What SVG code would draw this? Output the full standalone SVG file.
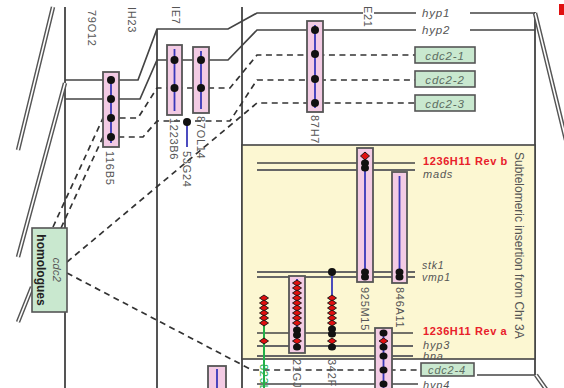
<svg xmlns="http://www.w3.org/2000/svg" width="564" height="388" viewBox="0 0 564 388">
<defs>
<style>
.vl{stroke:#555;stroke-width:2;fill:none}
.ln{stroke:#444;stroke-width:1.7;fill:none}
.gl{stroke:#666;stroke-width:2;fill:none}
.dbo{stroke:#555;stroke-width:4.5;fill:none}
.dbi{stroke:#fff;stroke-width:1.6;fill:none}
.dsh{stroke:#333;stroke-width:1.7;fill:none;stroke-dasharray:6 4.5}
.cl{fill:#f3cbe4;stroke:#555;stroke-width:1.8}
.bl{stroke:#3838b8;stroke-width:1.8}
.dot{fill:#111}
.rd{fill:#e01010;stroke:#111;stroke-width:0.9}
.t{font-family:"Liberation Sans",Arial,sans-serif;font-size:11px;fill:#555;letter-spacing:0.7px}
.g{font-family:"Liberation Sans",Arial,sans-serif;font-size:11.5px;font-style:italic;fill:#555;letter-spacing:0.8px}
.r{font-family:"Liberation Sans",Arial,sans-serif;font-size:11px;font-weight:bold;fill:#e8202a;letter-spacing:0.6px}
.gb{fill:#c9e8cf;stroke:#555;stroke-width:1.6}
</style>
</defs>
<rect width="564" height="388" fill="#fff"/>
<g id="backbone">
<line class="vl" x1="65" y1="7" x2="65" y2="388"/>
<line class="vl" x1="157" y1="29" x2="157" y2="388"/>
<line class="vl" x1="242" y1="7" x2="242" y2="388" stroke="#777"/>
<line class="vl" x1="535" y1="12" x2="535" y2="375"/>
<path class="dbo" d="M53,7 L18,150 M65,83 L18,257 M32,287 L18,322 M535,13 L566,140 M536,375 L548,392"/>
<path class="dbi" d="M53,7 L18,150 M65,83 L18,257 M32,287 L18,322 M535,13 L566,140 M536,375 L548,392"/>
<rect x="559" y="4" width="5" height="11" fill="#e01010"/>
</g>
<g id="insertion">
<rect x="242" y="145" width="293" height="214" fill="#fcf7d2" stroke="#444" stroke-width="1.6"/>
<text class="t" transform="translate(515,152) rotate(90)" style="font-size:12px;letter-spacing:0">Subtelomeric insertion from Chr 3A</text>
</g>
<g id="connectors">
<path class="ln" d="M65,80 H138 L157,29 H228 L257,13 H363 M374,13 H416 M470,13 H535"/>
<path class="ln" d="M65,99 H140 L157,60 H228 L257,30 H416 M470,30 H535"/>
<path class="ln" d="M257,163 H415"/>
<path class="gl" d="M257,170 H415"/>
<path class="gl" d="M257,272 H415 M257,277 H415"/>
<path class="ln" d="M257,333 H413"/>
<path class="gl" d="M257,346 H413 M257,356 H413"/>
<path class="ln" d="M257,384 H418"/>
<path class="ln" d="M477,375 H535"/>
<path class="dsh" d="M53,227 L103,118 H138 L157,88 H230 L257,55 H415"/>
<path class="dsh" d="M61,228 L103,137 H143 L157,121 H230 L257,80 H415"/>
<path class="dsh" d="M67,262 L257,103 H415"/>
<path class="dsh" d="M67,273 L252,370 H421"/>
</g>
<g id="c116B5">
<rect class="cl" x="103" y="72" width="16" height="75"/>
<line class="bl" x1="111" y1="76" x2="111" y2="143"/>
<circle class="dot" cx="111" cy="80" r="4"/><circle class="dot" cx="111" cy="99" r="4"/><circle class="dot" cx="111" cy="118" r="4"/><circle class="dot" cx="111" cy="137" r="4"/>
<text class="t" transform="translate(106,151) rotate(90)">116B5</text>
</g>
<g id="c1223B6">
<rect class="cl" x="167" y="45" width="15" height="70"/>
<line class="bl" x1="174.5" y1="49" x2="174.5" y2="111"/>
<circle class="dot" cx="174.5" cy="60" r="4"/><circle class="dot" cx="174.5" cy="88" r="4"/>
<text class="t" transform="translate(170,118) rotate(90)">1223B6</text>
</g>
<g id="c87OL14">
<rect class="cl" x="193" y="47" width="16" height="66"/>
<line class="bl" x1="201" y1="51" x2="201" y2="109"/>
<circle class="dot" cx="201" cy="60" r="4"/><circle class="dot" cx="201" cy="88" r="4"/>
<text class="t" transform="translate(197,116) rotate(90)">87OL14</text>
</g>
<g id="m53G24">
<line class="bl" x1="187" y1="122" x2="187" y2="147"/>
<circle class="dot" cx="187" cy="122" r="4"/>
<text class="t" transform="translate(183,151) rotate(90)">53G24</text>
</g>
<g id="c87H7">
<rect class="cl" x="307" y="21" width="16" height="91"/>
<line class="bl" x1="315" y1="25" x2="315" y2="108"/>
<circle class="dot" cx="315" cy="30" r="4"/><circle class="dot" cx="315" cy="54" r="4"/><circle class="dot" cx="315" cy="79" r="4"/><circle class="dot" cx="315" cy="103" r="4"/>
<text class="t" transform="translate(311,115) rotate(90)">87H7</text>
</g>
<g id="c925M15">
<rect class="cl" x="357" y="148" width="16" height="134"/>
<line class="bl" x1="365" y1="152" x2="365" y2="278"/>
<polygon class="rd" points="365,152 369.5,156 365,160 360.5,156"/>
<ellipse class="dot" cx="365" cy="163" rx="4" ry="3.5"/><ellipse class="dot" cx="365" cy="168" rx="4" ry="3.5"/>
<ellipse class="dot" cx="365" cy="272" rx="4" ry="3.5"/><ellipse class="dot" cx="365" cy="277" rx="4" ry="3.5"/>
<text class="t" transform="translate(361,287) rotate(90)">925M15</text>
</g>
<g id="c846A11">
<rect class="cl" x="392" y="172" width="15" height="111"/>
<line class="bl" x1="399.5" y1="176" x2="399.5" y2="279"/>
<ellipse class="dot" cx="399.5" cy="272" rx="4" ry="3.5"/><ellipse class="dot" cx="399.5" cy="277" rx="4" ry="3.5"/>
<text class="t" transform="translate(396,287) rotate(90)">846A11</text>
</g>
<g id="m342F">
<line class="bl" x1="332" y1="272" x2="332" y2="300"/>
<circle class="dot" cx="332" cy="272" r="4"/>
<polygon class="rd" points="332,295 336.5,298 332,301 327.5,298"/>
<polygon class="rd" points="332,300 336.5,303 332,306 327.5,303"/>
<polygon class="rd" points="332,305 336.5,308 332,311 327.5,308"/>
<polygon class="rd" points="332,310 336.5,313 332,316 327.5,313"/>
<polygon class="rd" points="332,315 336.5,318 332,321 327.5,318"/>
<polygon class="rd" points="332,320 336.5,323 332,326 327.5,323"/>
<ellipse class="dot" cx="332" cy="329" rx="4" ry="3.5"/><ellipse class="dot" cx="332" cy="334" rx="4" ry="3.5"/>
<polygon class="rd" points="332,338 336.5,341 332,344 327.5,341"/>
<ellipse class="dot" cx="332" cy="347" rx="4" ry="3.5"/>
<text class="t" transform="translate(328,359) rotate(90)">342F</text>
</g>
<g id="c21GJ">
<rect class="cl" x="289" y="276" width="16" height="77"/>
<line class="bl" x1="297" y1="279" x2="297" y2="350"/>
<polygon class="rd" points="297,280 301.5,283 297,286 292.5,283"/>
<polygon class="rd" points="297,285 301.5,288 297,291 292.5,288"/>
<polygon class="rd" points="297,290 301.5,293 297,296 292.5,293"/>
<polygon class="rd" points="297,295 301.5,298 297,301 292.5,298"/>
<polygon class="rd" points="297,300 301.5,303 297,306 292.5,303"/>
<polygon class="rd" points="297,305 301.5,308 297,311 292.5,308"/>
<polygon class="rd" points="297,310 301.5,313 297,316 292.5,313"/>
<polygon class="rd" points="297,315 301.5,318 297,321 292.5,318"/>
<polygon class="rd" points="297,320 301.5,323 297,326 292.5,323"/>
<ellipse class="dot" cx="297" cy="330" rx="4" ry="3.5"/><ellipse class="dot" cx="297" cy="335" rx="4" ry="3.5"/>
<polygon class="rd" points="297,338 301.5,341 297,344 292.5,341"/>
<ellipse class="dot" cx="297" cy="347" rx="4" ry="3.5"/>
<text class="t" transform="translate(293,359) rotate(90)">21GJ</text>
</g>
<g id="m823L">
<line x1="264" y1="298" x2="264" y2="388" stroke="#22b04a" stroke-width="2"/>
<polygon class="rd" points="264,295 268.5,298 264,301 259.5,298"/>
<polygon class="rd" points="264,300 268.5,303 264,306 259.5,303"/>
<polygon class="rd" points="264,305 268.5,308 264,311 259.5,308"/>
<polygon class="rd" points="264,310 268.5,313 264,316 259.5,313"/>
<polygon class="rd" points="264,315 268.5,318 264,321 259.5,318"/>
<polygon class="rd" points="264,320 268.5,323 264,326 259.5,323"/>
<polygon class="rd" points="264,338 268.5,341 264,344 259.5,341"/>
<text class="t" transform="translate(260,364) rotate(90)" style="fill:#22b04a">823L</text>
</g>
<g id="cBR">
<rect class="cl" x="375" y="328" width="17" height="70"/>
<line class="bl" x1="383.5" y1="331" x2="383.5" y2="388"/>
<ellipse class="dot" cx="383.5" cy="333" rx="4" ry="3.5"/>
<polygon class="rd" points="383.5,338 388,341 383.5,344 379,341"/>
<ellipse class="dot" cx="383.5" cy="347" rx="4" ry="3.5"/>
<ellipse class="dot" cx="383.5" cy="356" rx="4" ry="3.5"/>
<ellipse class="dot" cx="383.5" cy="370" rx="4" ry="3.5"/>
<ellipse class="dot" cx="383.5" cy="384" rx="4" ry="3.5"/>
</g>
<g id="cBL">
<rect class="cl" x="208" y="366" width="18" height="30"/>
<line class="bl" x1="217" y1="369" x2="217" y2="388"/>
</g>
<g id="topLabels">
<text class="t" transform="translate(88,10) rotate(90)">79O12</text>
<text class="t" transform="translate(128,7) rotate(90)">IH23</text>
<text class="t" transform="translate(172,6) rotate(90)">IE7</text>
<text class="t" transform="translate(364,6) rotate(90)">E21</text>
</g>
<g id="genes">
<text class="g" x="422" y="17">hyp1</text>
<text class="g" x="422" y="34">hyp2</text>
<text class="r" x="423" y="165">1236H11 Rev b</text>
<text class="g" x="423" y="177.5" style="font-size:11px">mads</text>
<text class="g" x="422" y="268.5" style="font-size:10.5px">stk1</text>
<text class="g" x="422" y="280.5" style="font-size:10.5px">vmp1</text>
<text class="r" x="423" y="335">1236H11 Rev a</text>
<text class="g" x="423" y="349" style="font-size:11px">hyp3</text>
<text class="g" x="423" y="359.5" style="font-size:11px">bna</text>
<text class="g" x="423" y="388.5" style="font-size:11px">hyp4</text>
</g>
<g id="cdc2-1"><rect class="gb" x="415" y="47" width="60" height="16"/><text class="g" x="445" y="59.5" text-anchor="middle" style="fill:#5d6e62">cdc2-1</text></g>
<g id="cdc2-2"><rect class="gb" x="415" y="71" width="60" height="16"/><text class="g" x="445" y="83.5" text-anchor="middle" style="fill:#5d6e62">cdc2-2</text></g>
<g id="cdc2-3"><rect class="gb" x="415" y="95" width="60" height="16"/><text class="g" x="445" y="107.5" text-anchor="middle" style="fill:#5d6e62">cdc2-3</text></g>
<g id="cdc2-4"><rect class="gb" x="421" y="363" width="53" height="13"/><text class="g" x="447" y="374" text-anchor="middle" style="fill:#5d6e62;font-size:11px">cdc2-4</text></g>
<g id="cdc2hom">
<rect class="gb" x="32" y="228" width="35" height="84"/>
<text class="g" transform="translate(53,270) rotate(90)" text-anchor="middle" style="font-size:11px;letter-spacing:0.3px">cdc2</text>
<text class="t" transform="translate(37,270) rotate(90)" text-anchor="middle" style="font-weight:bold;fill:#222;font-size:12px;letter-spacing:0">homologues</text>
</g>
</svg>
